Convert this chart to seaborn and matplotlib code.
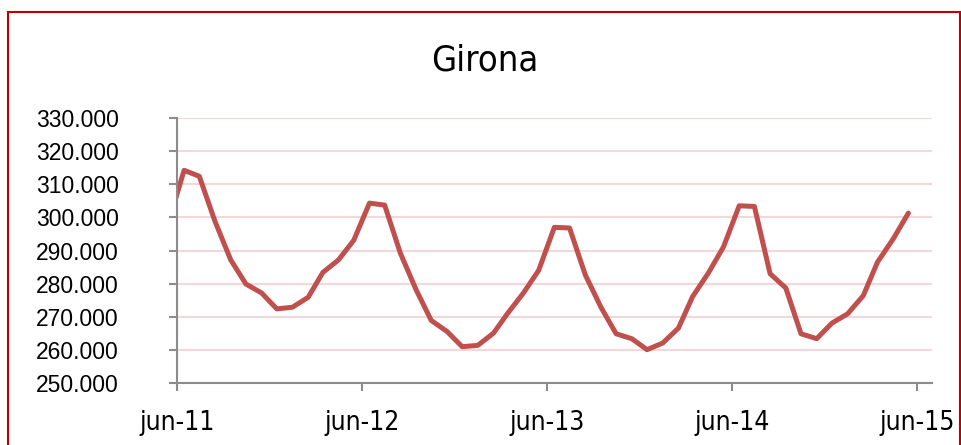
import matplotlib
matplotlib.use("Agg")
import matplotlib.pyplot as plt
from matplotlib.patches import Rectangle
from matplotlib.ticker import FuncFormatter
import seaborn as sns
import pandas as pd

# monthly values (thousands), may-11 .. may-15
months = pd.date_range("2011-05-01", "2015-05-01", freq="MS") + pd.Timedelta(days=14)
values = [298.4,
          314.2, 312.4, 298.8, 287.2, 279.9, 277.2, 272.4, 272.9, 275.9, 283.4, 287.2, 293.1,
          304.3, 303.7, 289.2, 278.2, 268.9, 265.6, 261.0, 261.4, 265.1, 271.1, 277.2, 284.0,
          297.0, 296.8, 282.7, 272.9, 264.9, 263.4, 260.1, 262.1, 266.6, 276.1, 283.2, 291.1,
          303.5, 303.3, 283.0, 278.7, 264.9, 263.4, 268.1, 270.9, 276.4, 286.5, 293.5, 301.3]
tick_dates = pd.to_datetime(["2011-06-01", "2012-06-01", "2013-06-01", "2014-06-01", "2015-06-01"])
tick_labels = ["jun-11", "jun-12", "jun-13", "jun-14", "jun-15"]
y_ticks = [250, 260, 270, 280, 290, 300, 310, 320, 330]

df = pd.DataFrame({"fecha": months, "valor": [v * 1000 for v in values]})

sns.set_style("white")
plt.rcParams["text.color"] = "black"
plt.rcParams["xtick.color"] = "black"
plt.rcParams["ytick.color"] = "black"
narrow = ["Liberation Sans Narrow", "DejaVu Sans"]

fig = plt.figure(figsize=(9.62, 4.45), dpi=100)
ax = fig.add_axes([0.184, 0.139, 0.785, 0.596])

sns.lineplot(data=df, x="fecha", y="valor", ax=ax, color="#c0504d", linewidth=3.6)

ax.set_xlim(pd.Timestamp("2011-06-01"), pd.Timestamp("2015-07-01"))
ax.set_ylim(250000, 330000)
ax.set_yticks([t * 1000 for t in y_ticks])
ax.yaxis.set_major_formatter(FuncFormatter(lambda v, p: f"{v:,.0f}".replace(",", ".")))
ax.set_xticks(tick_dates)
ax.set_xticklabels(tick_labels, fontfamily=narrow, fontstretch="condensed", fontsize=19)
for lab in ax.get_yticklabels():
    lab.set_fontfamily(["Liberation Sans", "DejaVu Sans"])
    lab.set_fontsize(16.5)

ax.grid(axis="y", color="#f2d8d9", linewidth=1.5)
ax.set_axisbelow(True)
for s in ["top", "right"]:
    ax.spines[s].set_visible(False)
for s in ["left", "bottom"]:
    ax.spines[s].set_color("#8c8c8c")
    ax.spines[s].set_linewidth(1.5)
ax.tick_params(axis="y", length=6, width=1.5, color="#8c8c8c", labelcolor="black", pad=36, left=True)
ax.tick_params(axis="x", length=6, width=1.5, color="#8c8c8c", labelcolor="black", pad=13, bottom=True)
ax.set_xlabel("")
ax.set_ylabel("")

fig.text(0.504, 0.865, "Girona", ha="center", va="center", fontsize=26,
         family=narrow, stretch="condensed")
fig.patches.append(Rectangle((0.0083, -0.05), 0.99, 1.023, transform=fig.transFigure,
                             fill=False, edgecolor="#c00000", linewidth=1.5))

plt.savefig("out.png", dpi=100)
